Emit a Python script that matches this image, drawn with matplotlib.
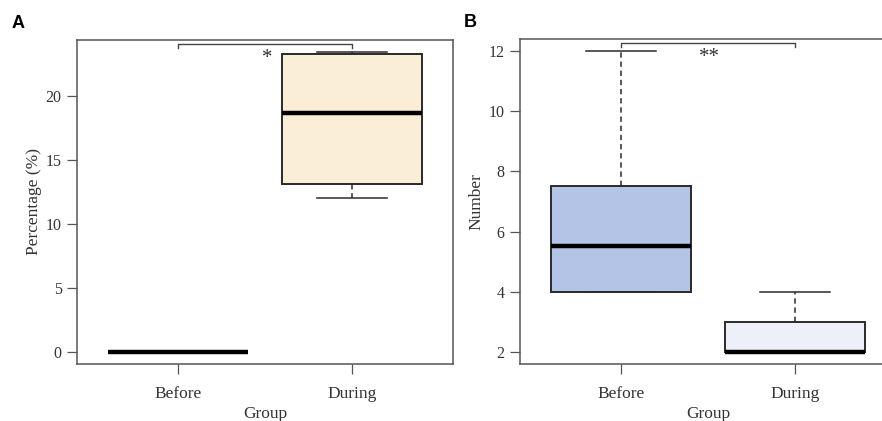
import numpy as np
import matplotlib.pyplot as plt
import matplotlib.transforms as mtransforms

# 画像から読み取った箱ひげ図の統計値
groups = ["Before", "During"]

# A: 割合 (%)
pct_whislo = [0.0, 12.0]
pct_q1 = [0.0, 13.1]
pct_med = [0.0, 18.65]
pct_q3 = [0.0, 23.3]
pct_whishi = [0.0, 23.45]
pct_colors = ["#ffffff", "#faefd6"]

# B: 件数
num_whislo = [4.0, 2.0]
num_q1 = [4.0, 2.0]
num_med = [5.53, 2.0]
num_q3 = [7.5, 3.0]
num_whishi = [12.0, 4.0]
num_colors = ["#b3c4e6", "#eef0f9"]

plt.rcParams['font.family'] = ['Liberation Serif', 'DejaVu Serif']
txt_col = "#333333"
edge_col = "#2a2a2a"
spine_col = "#555555"

fig = plt.figure(figsize=(8.82, 4.21), dpi=100)
axA = fig.add_axes([0.0873, 0.1354, 0.4263, 0.7696])
axB = fig.add_axes([0.5896, 0.1354, 0.4263, 0.7720])


def make_stats(lo, q1, med, q3, hi):
    stats = []
    for i in range(len(groups)):
        stats.append(dict(whislo=lo[i], q1=q1[i], med=med[i], q3=q3[i], whishi=hi[i], fliers=[], label=groups[i]))
    return stats


def draw(ax, stats, colors, ylim, yticks, ylabel, stars, panel, panel_x):
    bp = ax.bxp(stats, positions=[1, 2], widths=0.8, capwidths=0.4, patch_artist=True,
                showfliers=False,
                boxprops=dict(edgecolor=edge_col, linewidth=1.4),
                medianprops=dict(color="black", linewidth=3.2, solid_capstyle="butt"),
                whiskerprops=dict(color=edge_col, linewidth=1.1, linestyle=(0, (3.5, 2.5))),
                capprops=dict(color=edge_col, linewidth=1.1))
    for patch, c in zip(bp["boxes"], colors):
        patch.set_facecolor(c)
    ax.set_xlim(0.42, 2.58)
    ax.set_ylim(*ylim)
    ax.set_yticks(yticks)
    ax.set_xticks([1, 2])
    ax.set_xticklabels(groups, fontsize=12.5, color=txt_col)
    ax.tick_params(axis="y", labelsize=11.5, labelcolor=txt_col)
    ax.tick_params(direction="out", length=7, width=0.9, color=spine_col, pad=4)
    ax.tick_params(axis="x", pad=9)
    for s in ax.spines.values():
        s.set_color(spine_col)
        s.set_linewidth(1.1)
    ax.set_ylabel(ylabel, fontsize=12.5, color=txt_col, labelpad=3)
    ax.set_xlabel("Group", fontsize=12.5, color=txt_col, labelpad=3)

    # 有意差の括弧
    trans = mtransforms.blended_transform_factory(ax.transData, ax.transAxes)
    ax.plot([1, 1, 2, 2], [0.975, 0.9886, 0.9886, 0.975], color="#444444", linewidth=1.0,
            transform=trans, clip_on=False)
    ax.text(1.51, 0.942, stars, transform=trans, ha="center", va="center", fontsize=15, color="#333333")
    ax.text(panel_x, 1.052, panel, transform=ax.transAxes, fontsize=13, fontweight="bold",
            family="Liberation Sans", ha="left", va="center")


draw(axA, make_stats(pct_whislo, pct_q1, pct_med, pct_q3, pct_whishi), pct_colors,
     (-0.94, 24.39), [0, 5, 10, 15, 20], "Percentage (%)", "*", "A", -0.173)
draw(axB, make_stats(num_whislo, num_q1, num_med, num_q3, num_whishi), num_colors,
     (1.6, 12.4), [2, 4, 6, 8, 10, 12], "Number", "**", "B", -0.149)

fig.savefig("out.png", dpi=100)
